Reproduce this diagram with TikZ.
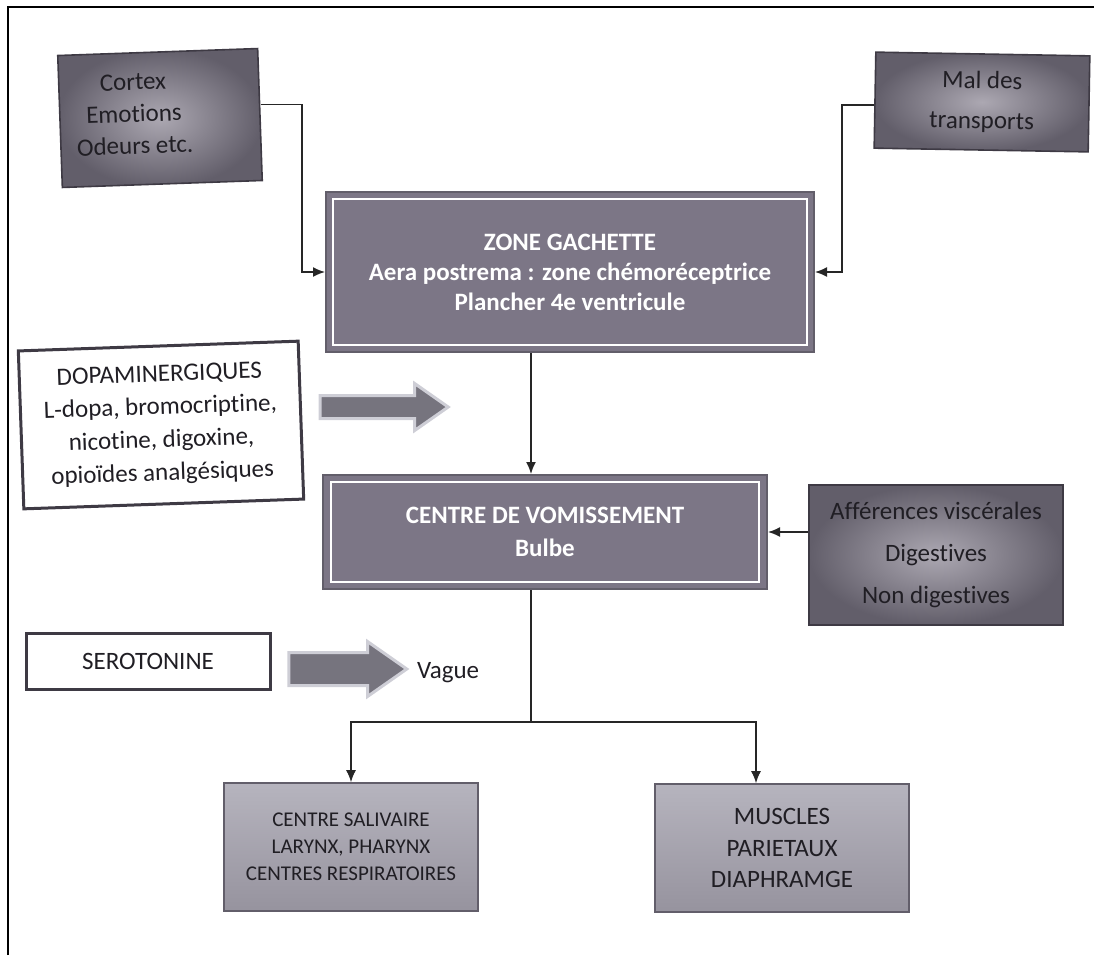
\documentclass[tikz,border=0pt]{standalone}
\usepackage{fontspec}
\setmainfont[Ligatures={NoCommon,NoContextual}]{Carlito}
\usetikzlibrary{arrows.meta,shapes.arrows}

\definecolor{inkgray}{RGB}{32,30,36}
\definecolor{boxedge}{RGB}{62,58,68}
\definecolor{boxdark}{RGB}{98,94,106}
\definecolor{boxlight}{RGB}{172,168,178}
\definecolor{zonefill}{RGB}{124,118,134}
\definecolor{lowtop}{RGB}{182,180,190}
\definecolor{lowbottom}{RGB}{150,147,158}
\definecolor{arrowfill}{RGB}{118,116,126}
\definecolor{arrowrim}{RGB}{206,206,214}

\newcommand{\boxlead}[2]{\fontsize{#1}{#2}\selectfont}

\tikzset{
  boxtext/.style={text=inkgray, align=center, font=\boxlead{12.5}{16}},
  shadebox/.style={boxtext, draw=boxedge, line width=0.8pt,
    inner color=boxlight, outer color=boxdark},
  zonebox/.style={fill=zonefill, draw=boxdark, line width=1pt, text=white,
    align=center, font=\boxlead{12.5}{15}\bfseries},
  plainbox/.style={boxtext, fill=white, draw=boxedge, line width=1.5pt},
  lowbox/.style={boxtext, top color=lowtop, bottom color=lowbottom,
    draw=boxdark, line width=0.8pt},
  blockarrow/.style={single arrow, fill=arrowfill, draw=arrowrim,
    line width=1.5pt, single arrow tip angle=70},
  conn/.style={draw=black!85, line width=0.8pt, -{Latex[length=6pt,width=5pt]}}
}

\begin{document}
\begin{tikzpicture}[x=0.5pt, y=-0.5pt]
  \useasboundingbox (0,0) rectangle (1094,955);
  \draw[line width=1.2pt] (8,955) -- (8,7) -- (1094,7);

  % influences on the trigger zone
  \node[shadebox, rotate=2, minimum width=100pt, minimum height=66pt] (cortex) at (160,118) {};
  \node[boxtext, rotate=2] (cortexlbl) at (134,114) {Cortex\\Emotions\\Odeurs etc.};
  \node[shadebox, rotate=-1, font=\boxlead{12.5}{20}, minimum width=107pt, minimum height=48pt] (mal) at (982,102) {Mal des\\transports};

  \node[zonebox, minimum width=244pt, minimum height=80pt] (gachette) at (570,272)
    {ZONE GACHETTE\\Aera postrema : zone chémoréceptrice\\Plancher 4e ventricule};
  \draw[white, line width=1.2pt] ([shift={(4pt,-4pt)}]gachette.north west) rectangle ([shift={(-4pt,4pt)}]gachette.south east);

  \node[plainbox, rotate=2, font=\boxlead{12.5}{16.5}, minimum width=140pt, minimum height=79pt] (dopa) at (161,425)
    {DOPAMINERGIQUES\\L-dopa, bromocriptine,\\nicotine, digoxine,\\opioïdes analgésiques};
  \node[blockarrow, inner sep=5pt, single arrow head extend=6pt, minimum height=64pt] (dopaarrow) at (376,407) {};

  % vomiting centre
  \node[zonebox, font=\boxlead{12.5}{16.5}\bfseries, minimum width=222pt, minimum height=57pt] (centre) at (545,532)
    {CENTRE DE VOMISSEMENT\\Bulbe};
  \draw[white, line width=1.2pt] ([shift={(4.5pt,-4pt)}]centre.north west) rectangle ([shift={(-4.5pt,4pt)}]centre.south east);

  \node[shadebox, font=\boxlead{12.5}{21}, minimum width=127pt, minimum height=70pt] (affer) at (936,555)
    {Afférences viscérales\\Digestives\\Non digestives};

  \node[plainbox, minimum width=122pt, minimum height=28pt] (sero) at (148,661) {SEROTONINE};
  \node[blockarrow, inner sep=7.5pt, single arrow head extend=5.5pt, minimum height=59pt] (seroarrow) at (336,669) {};
  \node[boxtext, anchor=west] (vague) at (410,673) {Vague};

  % effectors
  \node[lowbox, font=\boxlead{10.5}{13.5}, minimum width=127pt, minimum height=64pt] (saliv) at (351,847)
    {CENTRE SALIVAIRE\\LARYNX, PHARYNX\\CENTRES RESPIRATOIRES};
  \node[lowbox, font=\boxlead{12.5}{15.7}, minimum width=127pt, minimum height=64pt] (muscles) at (782,848)
    {MUSCLES\\PARIETAUX\\DIAPHRAMGE};

  % connectors
  \coordinate (spine) at (531,0);
  \coordinate (split) at (531,722);
  \draw[conn] ([yshift=5pt]cortex.east) -- ++(41,0) |- (gachette.west);
  \draw[conn] ([yshift=-2.5pt]mal.west) -- ++(-32,0) |- (gachette.east);
  \draw[conn] (gachette.south -| spine) -- (centre.north -| spine);
  \draw[conn] (affer.west |- centre.east) -- (centre.east);
  \draw[line width=0.8pt, black!85] (centre.south -| spine) -- (split);
  \draw[conn] (split) -| (saliv.north);
  \draw[conn] (split) -| ([xshift=-13pt]muscles.north);
\end{tikzpicture}
\end{document}
